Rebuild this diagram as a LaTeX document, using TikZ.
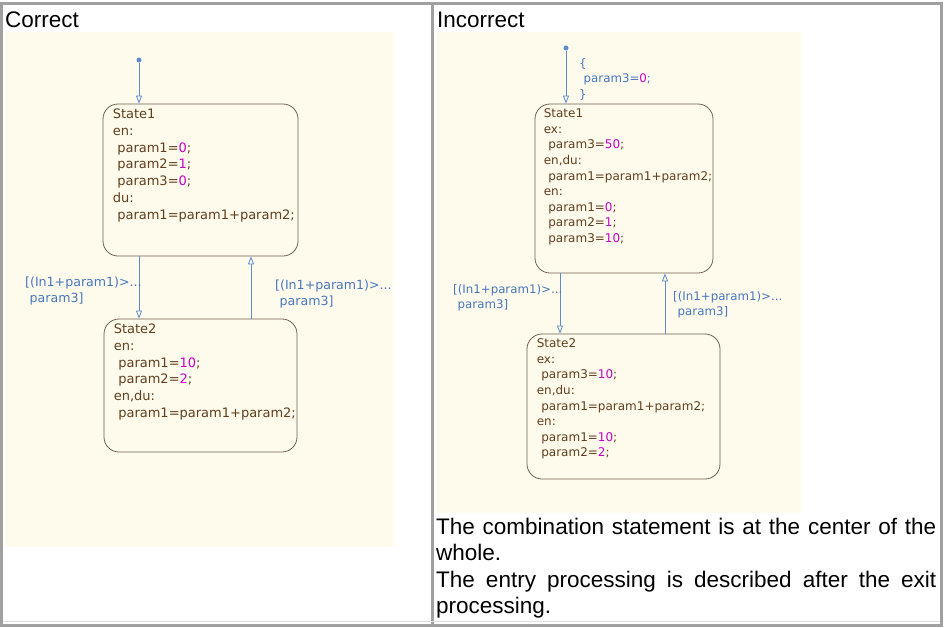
\documentclass[tikz,border=0pt]{standalone}
\usepackage{fontspec}
\setmainfont{Liberation Sans}
\newfontfamily\stfont{DejaVu Sans}
\usetikzlibrary{arrows.meta}
\definecolor{frame}{RGB}{160,160,160}
\definecolor{panel}{RGB}{255,251,236}
\definecolor{stxt}{RGB}{96,62,30}
\definecolor{sbord}{RGB}{110,96,82}
\definecolor{num}{RGB}{200,0,200}
\definecolor{tlab}{RGB}{72,118,190}
\definecolor{tline}{RGB}{95,140,205}
\newcommand\nm[1]{\textcolor{num}{#1}}
\newcommand\ind{\hspace*{4.5pt}}
\tikzset{
  stbox/.style={draw=sbord, line width=0.8pt, rounded corners=15pt, fill=panel, inner sep=0pt},
  sttxtL/.style={anchor=north west, inner sep=0pt, align=left, text=stxt, font=\stfont\fontsize{13}{16.8}\selectfont},
  sttxtR/.style={anchor=north west, inner sep=0pt, align=left, text=stxt, font=\stfont\fontsize{12}{15.6}\selectfont},
  tlabL/.style={anchor=north west, inner sep=0pt, align=left, text=tlab, font=\stfont\fontsize{12.6}{15.5}\selectfont},
  tlabR/.style={anchor=north west, inner sep=0pt, align=left, text=tlab, font=\stfont\fontsize{11.8}{15.5}\selectfont},
  tr/.style={draw=tline, line width=0.8pt, -{Triangle[open, width=6pt, length=8pt]}},
  initdot/.style={circle, fill=tline, inner sep=0pt, minimum size=5pt},
  title/.style={anchor=base west, inner sep=0pt, font=\fontsize{22.5}{26.5}\selectfont},
  body/.style={anchor=base west, inner sep=0pt, font=\fontsize{22.5}{26.5}\selectfont},
}
\begin{document}
\begin{tikzpicture}[x=1pt,y=-1pt]
\useasboundingbox (0,0) rectangle (944,627);
\fill[white] (0,0) rectangle (944,627);
% panels
\fill[panel] (5,32) rectangle (393,547);
\fill[panel] (437,32) rectangle (801,513);
% frame
\draw[frame, line width=3pt] (1.5,3) rectangle (941.5,625);
\draw[frame, line width=3pt] (432.5,3) -- (432.5,625);
\draw[black!12, line width=1pt] (3,621) -- (940,621);
% titles
\node[title] (tc) at (5,27) {Correct};
\node[title] (ti) at (437,27) {Incorrect};

% ===== Left (Correct) =====
\node[stbox, minimum width=195pt, minimum height=152pt] (L1) at (200.5,180) {};
\node[stbox, minimum width=193pt, minimum height=133pt] (L2) at (200.5,385.5) {};
\node[sttxtL] (L1t) at ([xshift=10pt,yshift=-5pt]L1.north west) {State1\\en:\\\ind param1=\nm{0};\\\ind param2=\nm{1};\\\ind param3=\nm{0};\\du:\\\ind param1=param1+param2;};
\node[sttxtL] (L2t) at ([xshift=10pt,yshift=-5pt]L2.north west) {State2\\en:\\\ind param1=\nm{10};\\\ind param2=\nm{2};\\en,du:\\\ind param1=param1+param2;};
\node[initdot] (Li) at (139,60) {};
\draw[tr] (Li) -- (Li |- L1.north);
\coordinate (Lx1) at (139,0);
\coordinate (Lx2) at (251,0);
\draw[tr] (L1.south -| Lx1) -- (L2.north -| Lx1);
\draw[tr] (L2.north -| Lx2) -- (L1.south -| Lx2);
\node[tlabL] (La) at (25,277) {[(In1+param1)>...\\\ind param3]};
\node[tlabL] (Lb) at (275,280) {[(In1+param1)>...\\\ind param3]};

% ===== Right (Incorrect) =====
\node[stbox, minimum width=178pt, minimum height=169pt] (R1) at (624,188.5) {};
\node[stbox, minimum width=193pt, minimum height=145pt] (R2) at (623.5,406.5) {};
\node[sttxtR] (R1t) at ([xshift=9pt,yshift=-5pt]R1.north west) {State1\\ex:\\\ind param3=\nm{50};\\en,du:\\\ind param1=param1+param2;\\en:\\\ind param1=\nm{0};\\\ind param2=\nm{1};\\\ind param3=\nm{10};};
\node[sttxtR] (R2t) at ([xshift=10pt,yshift=-5pt]R2.north west) {State2\\ex:\\\ind param3=\nm{10};\\en,du:\\\ind param1=param1+param2;\\en:\\\ind param1=\nm{10};\\\ind param2=\nm{2};};
\node[initdot] (Ri) at (566,48) {};
\draw[tr] (Ri) -- (Ri |- R1.north);
\node[tlabR] (Rc) at (579,58) {\{\\\ind param3=\nm{0};\\\}};
\coordinate (Rx1) at (560,0);
\coordinate (Rx2) at (665,0);
\draw[tr] (R1.south -| Rx1) -- (R2.north -| Rx1);
\draw[tr] (R2.north -| Rx2) -- (R1.south -| Rx2);
\node[tlabR] (Ra) at (453,284) {[(In1+param1)>...\\\ind param3]};
\node[tlabR] (Rb) at (673,291) {[(In1+param1)>...\\\ind param3]};

% bottom text
\node[body] (b1) at (436,534) {\makebox[500pt][s]{The combination statement is at the center of the}};
\node[body] (b2) at (436,560.5) {whole.};
\node[body] (b3) at (436,587) {\makebox[500pt][s]{The entry processing is described after the exit}};
\node[body] (b4) at (436,613.5) {processing.};
\end{tikzpicture}
\end{document}
